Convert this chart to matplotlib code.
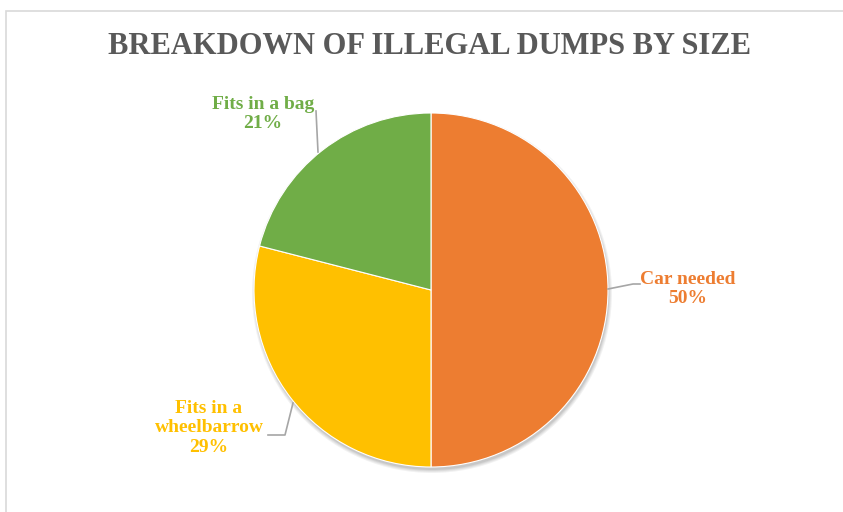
import matplotlib
matplotlib.use("Agg")

import matplotlib.pyplot as plt
from matplotlib.patches import Rectangle, Circle

title = "BREAKDOWN OF ILLEGAL DUMPS BY SIZE"
categories = ["Car needed", "Fits in a\nwheelbarrow", "Fits in a bag"]
shares = [50, 29, 21]
colors = ["#ED7D31", "#FFC000", "#70AD47"]

W, H = 843, 512
fig = plt.figure(figsize=(W / 100, H / 100), dpi=100)
ax = fig.add_axes([0, 0, 1, 1])

# chart frame
ax.add_patch(Rectangle((6, -5), W, H - 11 + 5, fill=False, edgecolor="#D9D9D9", linewidth=1.2))

cx, cy, r = 431, H - 290, 177

# soft shadow under the pie
for i, a in enumerate([0.05, 0.05, 0.06, 0.07]):
    ax.add_patch(Circle((cx + 1, cy - 3), r + 3 - i, color="black", alpha=a, linewidth=0, zorder=0))

wedges, _ = ax.pie(
    shares,
    colors=colors,
    startangle=90,
    counterclock=False,
    center=(cx, cy),
    radius=r,
    wedgeprops=dict(edgecolor="white", linewidth=0.8, zorder=1),
    frame=True,
)
ax.set_xlim(0, W)
ax.set_ylim(0, H)
ax.set_aspect("equal")
ax.axis("off")

font = dict(family="Liberation Serif", fontweight="bold")
ax.text(430, H - 46, title, ha="center", va="center", fontsize=22, color="#595959", **font)

# label positions (pixels) and leader lines
label_pos = [(688, 289), (209, 428), (263, 114)]
leaders = [
    [(608, 289), (633, 284), (640, 284)],
    [(293, 403), (285, 435), (268, 435)],
    [(316, 111), (318, 152)],
]
for name, val, col, (lx, ly), pts in zip(categories, shares, colors, label_pos, leaders):
    ax.text(lx, H - ly, f"{name}\n{val}%", ha="center", va="center", fontsize=14,
            color=col, linespacing=1.22, **font)
    ax.plot([p[0] for p in pts], [H - p[1] for p in pts], color="#A6A6A6", linewidth=1.2)

fig.savefig("out.png", dpi=100)
plt.close(fig)
